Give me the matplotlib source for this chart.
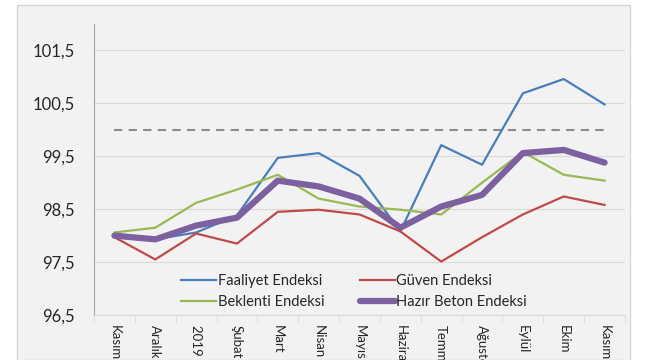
import matplotlib
matplotlib.use("Agg")
import matplotlib.pyplot as plt
from matplotlib.patches import Rectangle
from matplotlib.ticker import FuncFormatter, FixedLocator

plt.rcParams['font.family'] = ['Lato', 'DejaVu Sans']

months = ["Kasım", "Aralık", "2019 Ocak", "Şubat", "Mart", "Nisan", "Mayıs",
          "Haziran", "Temmuz", "Ağustos", "Eylül", "Ekim", "Kasım"]

faaliyet = [98.00, 97.93, 98.06, 98.38, 99.47, 99.56, 99.13, 98.08, 99.71, 99.34, 100.69, 100.96, 100.48]
guven = [97.97, 97.55, 98.04, 97.85, 98.45, 98.49, 98.40, 98.08, 97.51, 97.97, 98.40, 98.74, 98.58]
beklenti = [98.06, 98.15, 98.62, 98.87, 99.15, 98.70, 98.55, 98.49, 98.40, 99.00, 99.58, 99.15, 99.04]
hazir_beton = [98.00, 97.93, 98.19, 98.34, 99.04, 98.93, 98.70, 98.15, 98.55, 98.77, 99.56, 99.62, 99.38]
threshold = 100.0

yticks = [96.5, 97.5, 98.5, 99.5, 100.5, 101.5]

bg = "#f2f2f2"
fig = plt.figure(figsize=(6.5, 3.6), dpi=100, facecolor="white")
fig.patches.append(Rectangle((17/650, 0), 613/650, 355/360, transform=fig.transFigure,
                             facecolor=bg, edgecolor="#d6d6d6", linewidth=1.0, zorder=-1))
ax = fig.add_axes([94/650, 45/360, 531/650, 291/360])
ax.set_facecolor(bg)

x = range(len(months))
ax.plot(x, [threshold] * len(months), color="#8c8c8c", linestyle=(0, (4, 3)), linewidth=1.5)
l_f, = ax.plot(x, faaliyet, color="#4a7ebb", linewidth=1.6, label="Faaliyet Endeksi")
l_g, = ax.plot(x, guven, color="#be4b48", linewidth=1.6, label="Güven Endeksi")
l_b, = ax.plot(x, beklenti, color="#98b954", linewidth=1.6, label="Beklenti Endeksi")
l_h, = ax.plot(x, hazir_beton, color="#7d60a0", linewidth=4.5, solid_capstyle="round",
               label="Hazır Beton Endeksi")

ax.set_xlim(-0.5, len(months) - 0.5)
ax.set_ylim(96.5, 102.0)
ax.set_yticks(yticks)
ax.yaxis.set_major_formatter(FuncFormatter(lambda v, p: f"{v:.1f}".replace(".", ",")))
ax.grid(axis="y", color="#d9d9d9", linewidth=0.8)
ax.set_axisbelow(True)

ax.set_xticks(list(x))
ax.set_xticklabels(months, rotation=270, va="top", ha="center")
ax.xaxis.set_minor_locator(FixedLocator([i + 0.5 for i in range(-1, len(months))]))
ax.tick_params(axis="x", which="major", length=0, pad=7, labelsize=9.5, labelcolor="#262626")
ax.tick_params(axis="x", which="minor", length=5, color="#d9d9d9")
ax.tick_params(axis="y", length=0, pad=14, labelsize=12, labelcolor="#262626")

for s in ["top", "right"]:
    ax.spines[s].set_visible(False)
ax.spines["left"].set_color("#a6a6a6")
ax.spines["bottom"].set_color("#d9d9d9")

ax.legend([l_f, l_b, l_g, l_h], [h.get_label() for h in (l_f, l_b, l_g, l_h)],
          loc="lower left", bbox_to_anchor=(0.14, -0.025), ncol=2, frameon=False,
          fontsize=10.5, handlelength=2.4, handletextpad=0.1, columnspacing=2.4,
          labelspacing=0.5, labelcolor="#262626")

fig.savefig("out.png", dpi=100, facecolor="white")
